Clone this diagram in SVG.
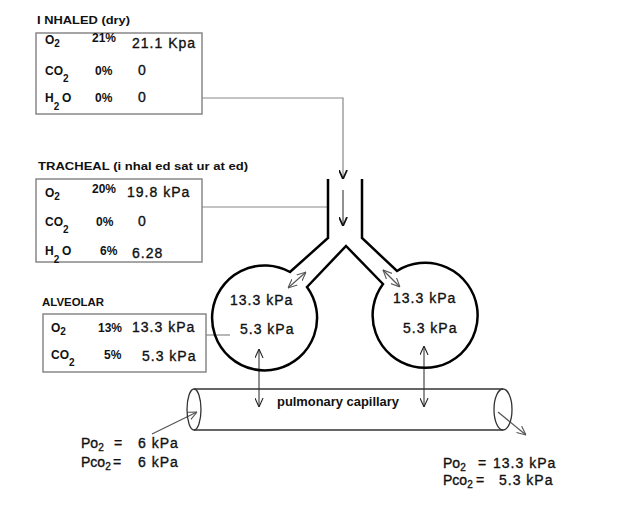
<svg xmlns="http://www.w3.org/2000/svg" width="640" height="516" viewBox="0 0 640 516">
<style>
.t{font-family:"Liberation Sans",Arial,sans-serif;fill:#111}
.lb{font-size:12px;font-weight:bold}
.v{font-size:14px;letter-spacing:1px;stroke:#111;stroke-width:0.35}
.p{font-size:14px;stroke:#111;stroke-width:0.35}
.ttl{font-size:11px;font-weight:bold}
.sub{font-size:10px}
.box{fill:none;stroke:#888;stroke-width:1.5}
.con{fill:none;stroke:#888;stroke-width:1.2}
.wall{fill:none;stroke:#000;stroke-width:2.5}
.arr{fill:none;stroke:#222;stroke-width:1}
.garr{fill:none;stroke:#555;stroke-width:1.2}
.tube{fill:none;stroke:#333;stroke-width:1.3}
</style>
<defs>
<marker id="ah" viewBox="0 0 10 10" refX="10" refY="5" markerWidth="9" markerHeight="9" orient="auto-start-reverse" markerUnits="userSpaceOnUse">
<path d="M0,0.5 L10,5 L0,9.5" fill="none" stroke="#222" stroke-width="1.2"/>
</marker>
<marker id="ahb" viewBox="0 0 10 10" refX="10" refY="5" markerWidth="9" markerHeight="9" orient="auto" markerUnits="userSpaceOnUse">
<path d="M0,0.5 L10,5 L0,9.5" fill="none" stroke="#111" stroke-width="2"/>
</marker>
<marker id="ahg" viewBox="0 0 10 10" refX="10" refY="5" markerWidth="9" markerHeight="9" orient="auto-start-reverse" markerUnits="userSpaceOnUse">
<path d="M0,0.5 L10,5 L0,9.5" fill="none" stroke="#555" stroke-width="1.2"/>
</marker>
</defs>

<g id="connectors">
<path class="con" d="M202,98 H343 V179" marker-end="url(#ahb)"/>
<path class="con" d="M202,207 H328"/>
<path class="con" d="M206,335 H230"/>
<line class="arr" x1="343" y1="190" x2="343" y2="226" marker-end="url(#ahb)"/>
<line class="garr" x1="288" y1="288" x2="306" y2="272" marker-start="url(#ahg)" marker-end="url(#ahg)"/>
<line class="garr" x1="383" y1="270" x2="400" y2="287" marker-start="url(#ahg)" marker-end="url(#ahg)"/>
<line class="arr" x1="259" y1="349" x2="259" y2="407" marker-start="url(#ah)" marker-end="url(#ah)"/>
<line class="arr" x1="424" y1="346" x2="424" y2="407" marker-start="url(#ah)" marker-end="url(#ah)"/>
<line class="garr" x1="152" y1="434" x2="197" y2="412" marker-end="url(#ahg)"/>
<line class="garr" x1="498" y1="412" x2="526" y2="435" marker-end="url(#ahg)"/>
</g>

<g id="inhaled">
<text class="t ttl" x="37" y="24" textLength="93" lengthAdjust="spacingAndGlyphs">I NHALED (dry)</text>
<rect class="box" x="36" y="33" width="166" height="81"/>
<text class="t lb" x="45" y="44">O<tspan class="sub" dy="3">2</tspan></text>
<text class="t lb" x="92" y="42">21%</text>
<text class="t v" x="132" y="48">21.1 Kpa</text>
<text class="t lb" x="45" y="75">CO<tspan class="sub" dy="7">2</tspan></text>
<text class="t lb" x="95" y="75">0%</text>
<text class="t v" x="138" y="75">0</text>
<text class="t lb" x="45" y="102">H<tspan class="sub" dy="8">2</tspan><tspan x="62" dy="-8">O</tspan></text>
<text class="t lb" x="95" y="102">0%</text>
<text class="t v" x="138" y="102">0</text>
</g>

<g id="tracheal">
<text class="t ttl" x="38" y="170" textLength="210" lengthAdjust="spacingAndGlyphs">TRACHEAL (i nhal ed sat ur at ed)</text>
<rect class="box" x="36" y="179" width="166" height="83"/>
<text class="t lb" x="45" y="197">O<tspan class="sub" dy="3">2</tspan></text>
<text class="t lb" x="92" y="193">20%</text>
<text class="t v" x="127" y="197">19.8 kPa</text>
<text class="t lb" x="45" y="226">CO<tspan class="sub" dy="7">2</tspan></text>
<text class="t lb" x="96" y="226">0%</text>
<text class="t v" x="138" y="226">0</text>
<text class="t lb" x="45" y="255">H<tspan class="sub" dy="8">2</tspan><tspan x="62" dy="-8">O</tspan></text>
<text class="t lb" x="100" y="255">6%</text>
<text class="t v" x="132" y="258">6.28</text>
</g>

<g id="alveolar">
<text class="t ttl" x="42" y="306" textLength="62" lengthAdjust="spacingAndGlyphs">ALVEOLAR</text>
<rect class="box" x="43" y="314" width="163" height="58"/>
<text class="t lb" x="51" y="332">O<tspan class="sub" dy="3">2</tspan></text>
<text class="t lb" x="98" y="332">13%</text>
<text class="t v" x="132" y="332">13.3 kPa</text>
<text class="t lb" x="51" y="359">CO<tspan class="sub" dy="7">2</tspan></text>
<text class="t lb" x="104" y="359">5%</text>
<text class="t v" x="142" y="361">5.3 kPa</text>
</g>

<g id="airway">
<path class="wall" d="M328,179 L328,238 L290,272 A52.5,52.5 0 1 0 307,287 L346,246 L383,284 A52.5,52.5 0 1 0 397,271 L362,238 L362,179"/>
</g>

<g id="alveolus-left">
<text class="t v" x="230" y="305">13.3 kPa</text>
<text class="t v" x="240" y="334">5.3 kPa</text>
</g>

<g id="alveolus-right">
<text class="t v" x="393" y="303">13.3 kPa</text>
<text class="t v" x="403" y="333">5.3 kPa</text>
</g>

<g id="capillary">
<line class="tube" x1="194" y1="389" x2="503" y2="389"/>
<line class="tube" x1="194" y1="430" x2="503" y2="430"/>
<ellipse class="tube" cx="194" cy="409.5" rx="7" ry="20.5"/>
<ellipse class="tube" cx="503" cy="409.5" rx="9" ry="20.5"/>
<text class="t" x="277" y="406" font-size="12" font-weight="bold" textLength="122" lengthAdjust="spacingAndGlyphs">pulmonary capillary</text>
</g>

<g id="venous">
<text class="t p" x="81" y="448">Po<tspan class="sub" dy="3">2</tspan></text>
<text class="t p" x="114" y="448">=</text>
<text class="t v" x="138" y="448">6 kPa</text>
<text class="t p" x="81" y="467">Pco<tspan class="sub" dy="3">2</tspan></text>
<text class="t p" x="113" y="467">=</text>
<text class="t v" x="138" y="467">6 kPa</text>
</g>

<g id="arterial">
<text class="t p" x="443" y="468">Po<tspan class="sub" dy="3">2</tspan></text>
<text class="t p" x="478" y="468">=</text>
<text class="t v" x="493" y="468">13.3 kPa</text>
<text class="t p" x="443" y="485">Pco<tspan class="sub" dy="3">2</tspan></text>
<text class="t p" x="476" y="485">=</text>
<text class="t v" x="499" y="485">5.3 kPa</text>
</g>
</svg>
